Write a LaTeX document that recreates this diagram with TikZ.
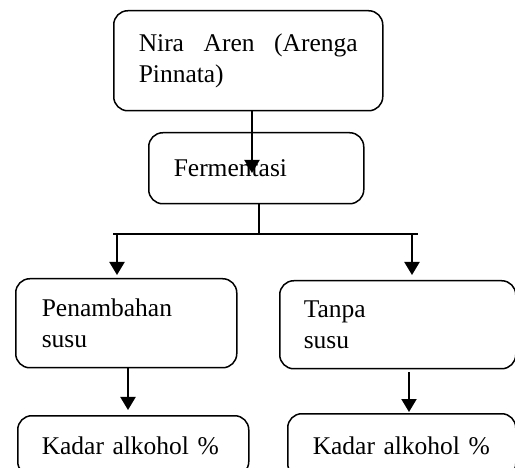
\documentclass[tikz,border=0pt]{standalone}
\usepackage{fontspec}
\setmainfont{Liberation Serif}
\usetikzlibrary{arrows.meta,calc}
\begin{document}
\begin{tikzpicture}[x=1pt,y=-1pt,
 box/.style={draw,line width=1.5pt,rounded corners=14pt,inner xsep=25pt,inner ysep=0pt,align=left,font=\fontsize{25.5}{31}\selectfont,anchor=north west},
 arr/.style={line width=2pt,-{Triangle[width=15pt,length=13pt]}},
 ln/.style={line width=2pt}]
\useasboundingbox (0,0) rectangle (515,468);
\clip (0,0) rectangle (515,468);
\node[box,text width=219pt,minimum height=100pt] (n1) at (113,10) {\makebox[219pt][l]{Nira\hfill Aren\hfill (Arenga}\\Pinnata)};
\node[box,text width=165pt,minimum height=71pt] (n2) at (148,132) {Fermentasi};
\node[box,text width=169pt,minimum height=89pt,inner xsep=26pt] (n3) at (15,278) {Penambahan\\susu};
\node[box,text width=188pt,minimum height=88pt,inner xsep=24pt] (n4) at (279,280) {Tanpa\\susu};
\node[box,text width=183pt,minimum height=60pt,inner xsep=24pt] (n5) at (17,415) {Kadar alkohol \%};
\node[box,text width=182pt,minimum height=64pt,inner xsep=23pt] (n6) at (287,413) {\hspace*{2pt}Kadar alkohol \%};
\coordinate (t1) at (252,173);
\draw[arr] (n1.south -| t1) -- (t1);
\coordinate (j) at (259,234);
\draw[ln] (n2.south -| j) -- (j);
\coordinate (hl) at (113,234);
\coordinate (hr) at (418,234);
\draw[ln] (hl) -- (hr);
\coordinate (al) at (117,234);
\coordinate (ar) at (412,234);
\draw[arr,shorten >=3pt] (al) -- (al |- n3.north);
\draw[arr,shorten >=5pt] (ar) -- (ar |- n4.north);
\coordinate (bl) at (128,0);
\coordinate (br) at (409,0);
\draw[arr,shorten >=5pt] (n3.south -| bl) -- (n5.north -| bl);
\draw[arr,shorten >=1pt,shorten <=3pt] (n4.south -| br) -- (n6.north -| br);
\end{tikzpicture}
\end{document}
